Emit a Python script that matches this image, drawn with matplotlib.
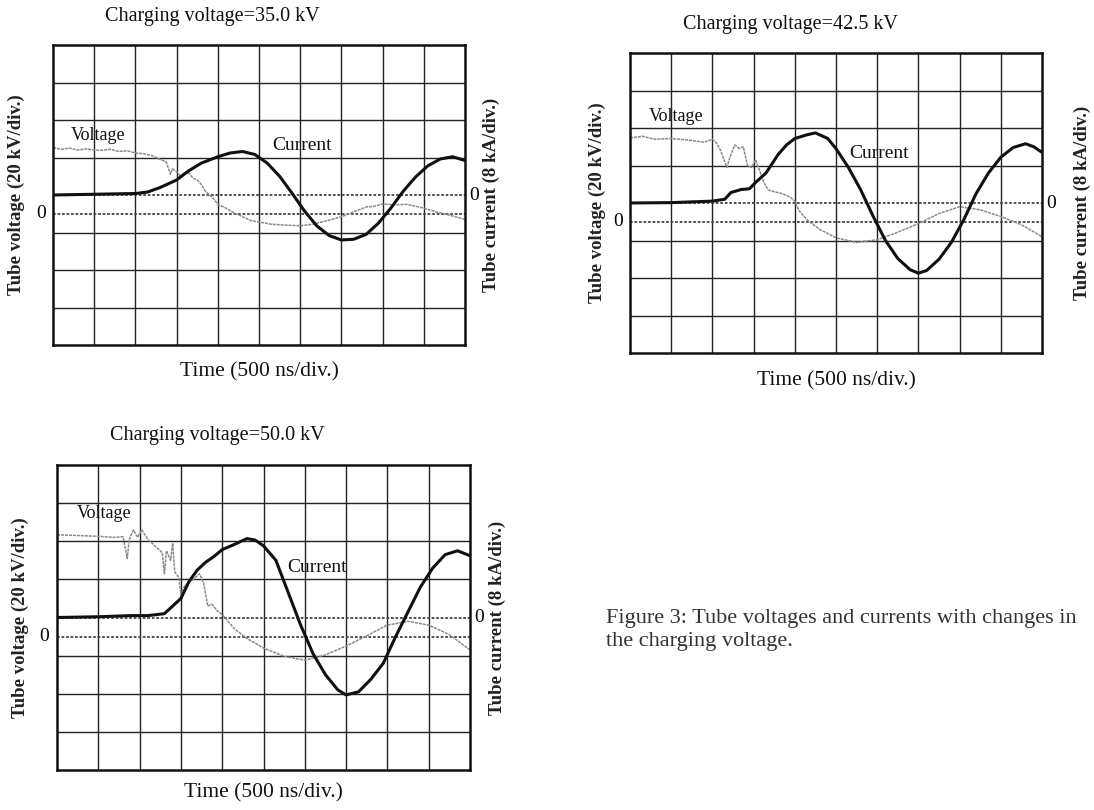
import matplotlib
matplotlib.use('Agg')
import matplotlib.pyplot as plt

plt.rcParams['font.family'] = ['Liberation Serif', 'DejaVu Serif']

W, H = 1094, 810

# scope traces in divisions (x: 10 div, y: +-4 div)
# current is relative to the centre line, voltage relative to its own zero (0.5 div lower)
titles = ['Charging voltage=35.0 kV', 'Charging voltage=42.5 kV', 'Charging voltage=50.0 kV']

cur35_t = [0, 1, 2, 2.3, 2.6, 3.0, 3.3, 3.6, 4.0, 4.3, 4.6, 4.9, 5.2, 5.5, 5.8, 6.1, 6.4, 6.7,
           7.0, 7.3, 7.6, 7.9, 8.2, 8.5, 8.8, 9.1, 9.4, 9.7, 10]
cur35 = [0, 0.02, 0.04, 0.08, 0.2, 0.4, 0.65, 0.85, 1.02, 1.12, 1.16, 1.08, 0.85, 0.5, 0.05,
         -0.42, -0.82, -1.08, -1.2, -1.18, -1.05, -0.75, -0.35, 0.1, 0.48, 0.78, 0.96, 1.02, 0.92]
volt35_t = [0, 0.2, 0.4, 0.6, 0.8, 1.0, 1.2, 1.4, 1.6, 1.8, 2.0, 2.2, 2.4, 2.6, 2.75, 2.85, 2.9,
            3.0, 3.1, 3.2, 3.3, 3.4, 3.5, 3.6, 3.7, 3.8, 3.9, 4.0, 4.2, 4.4, 4.6, 4.8, 5.0, 5.3,
            5.6, 6.0, 6.3, 6.6, 7.0, 7.3, 7.6, 7.8, 8.0, 8.3, 8.6, 9.0, 9.3, 9.6, 10]
volt35 = [1.76, 1.72, 1.75, 1.7, 1.73, 1.7, 1.69, 1.72, 1.66, 1.68, 1.62, 1.6, 1.55, 1.45, 1.38,
          1.05, 1.2, 1.12, 1.0, 1.1, 1.08, 0.95, 0.9, 0.78, 0.6, 0.5, 0.4, 0.25, 0.15, 0.02, -0.08,
          -0.18, -0.22, -0.28, -0.3, -0.32, -0.28, -0.2, -0.08, 0.05, 0.18, 0.2, 0.26, 0.24, 0.25,
          0.15, 0.05, -0.03, -0.15]

cur42_t = [0, 1, 2, 2.3, 2.45, 2.7, 2.9, 3.05, 3.3, 3.6, 3.8, 4.0, 4.3, 4.5, 4.8, 5.0, 5.3, 5.6,
           5.9, 6.2, 6.5, 6.8, 7.0, 7.2, 7.5, 7.8, 8.1, 8.4, 8.7, 9.0, 9.3, 9.6, 9.8, 10]
cur42 = [0, 0.01, 0.05, 0.1, 0.28, 0.36, 0.38, 0.55, 0.8, 1.3, 1.55, 1.72, 1.82, 1.87, 1.72, 1.45,
         0.95, 0.35, -0.35, -1.0, -1.48, -1.78, -1.87, -1.8, -1.5, -1.05, -0.45, 0.25, 0.8, 1.22,
         1.48, 1.58, 1.5, 1.35]
volt42_t = [0, 0.3, 0.6, 1.0, 1.4, 1.8, 2.0, 2.1, 2.2, 2.35, 2.45, 2.55, 2.65, 2.75, 2.85, 2.95,
            3.05, 3.15, 3.25, 3.35, 3.5, 3.7, 3.9, 4.0, 4.1, 4.3, 4.6, 5.0, 5.5, 6.0, 6.5, 7.0,
            7.5, 8.0, 8.5, 9.0, 9.5, 10]
volt42 = [2.23, 2.28, 2.2, 2.22, 2.18, 2.12, 2.2, 2.1, 1.9, 1.45, 1.8, 2.05, 1.95, 2.0, 1.5, 1.45,
          1.65, 1.35, 1.05, 0.85, 0.8, 0.75, 0.65, 0.55, 0.3, 0.05, -0.2, -0.43, -0.55, -0.48,
          -0.28, -0.05, 0.22, 0.4, 0.32, 0.14, -0.08, -0.4]

cur50_t = [0, 1, 1.8, 2.2, 2.6, 2.8, 3.0, 3.2, 3.4, 3.6, 3.8, 4.0, 4.3, 4.6, 4.8, 5.0, 5.3, 5.6,
           5.9, 6.2, 6.5, 6.8, 7.0, 7.3, 7.6, 7.9, 8.2, 8.5, 8.8, 9.1, 9.4, 9.7, 10]
cur50 = [0, 0.02, 0.05, 0.05, 0.1, 0.3, 0.5, 0.95, 1.25, 1.45, 1.6, 1.78, 1.92, 2.07, 2.03, 1.88,
         1.5, 0.65, -0.2, -0.95, -1.5, -1.9, -2.03, -1.95, -1.62, -1.2, -0.5, 0.15, 0.8, 1.3,
         1.65, 1.75, 1.62]
volt50_t = [0, 0.5, 1.0, 1.4, 1.6, 1.7, 1.75, 1.85, 1.95, 2.05, 2.2, 2.4, 2.55, 2.6, 2.65, 2.75,
            2.8, 2.85, 2.95, 3.0, 3.1, 3.3, 3.45, 3.55, 3.65, 3.75, 3.9, 4.0, 4.3, 4.6, 5.0, 5.5,
            6.0, 6.5, 7.0, 7.5, 8.0, 8.5, 9.0, 9.5, 10]
volt50 = [2.67, 2.65, 2.63, 2.6, 2.62, 2.05, 2.55, 2.8, 2.6, 2.8, 2.55, 2.35, 2.2, 1.65, 2.25, 2.0,
          2.45, 1.7, 1.55, 1.1, 1.35, 1.5, 1.65, 1.4, 0.8, 0.85, 0.65, 0.58, 0.2, -0.05, -0.3,
          -0.52, -0.62, -0.48, -0.25, 0.02, 0.3, 0.4, 0.3, 0.05, -0.35]

# voltage / current tag positions in divisions
volt_tag = [(1.1, 1.6), (1.13, 2.3), (1.13, 2.73)]
cur_tag = [(6.05, 1.33), (6.05, 1.32), (6.3, 1.32)]

# panel boxes in pixels (left, top, right, bottom)
boxes = [(53, 45, 465, 345), (630, 53, 1042, 353), (57, 465, 470, 770)]
title_xy = [(212, 16), (790, 24), (217, 435)]
xlab_y = [372, 381, 793]
vlab_x = [16, 597, 20]
ilab_x = [491, 1082, 497]

traces = [(cur35_t, cur35, volt35_t, volt35),
          (cur42_t, cur42, volt42_t, volt42),
          (cur50_t, cur50, volt50_t, volt50)]

fig = plt.figure(figsize=(W / 100, H / 100), dpi=100)


def fx(x):
    return x / W


def fy(y):
    return 1 - y / H


for i, (l, t, r, b) in enumerate(boxes):
    ax = fig.add_axes([fx(l), fy(b), (r - l) / W, (b - t) / H])
    ax.set_xlim(0, 10)
    ax.set_ylim(-4, 4)
    ax.set_xticks([])
    ax.set_yticks([])
    for s in ax.spines.values():
        s.set_linewidth(1.8)
        s.set_color('#111111')
    # graticule
    for gx in range(1, 10):
        ax.axvline(gx, color='#222222', lw=1.0)
    for gy in [-3, -2, -1, 1, 2, 3]:
        ax.axhline(gy, color='#222222', lw=1.0)
    # baselines of the two channels
    ax.axhline(0, color='#444444', lw=1.3, ls=(0, (1.5, 1)))
    ax.axhline(-0.5, color='#444444', lw=1.3, ls=(0, (1.5, 1)))

    ct, cv, vt, vv = traces[i]
    ax.plot(vt, [v - 0.5 for v in vv], color='#8a8a8a', lw=1.1, ls=(0, (2, 0.6)))
    ax.plot(ct, cv, color='#111111', lw=2.2)

    ax.text(*volt_tag[i], 'Voltage', fontsize=13, ha='center', va='center', color='#111111')
    ax.text(*cur_tag[i], 'Current', fontsize=14, ha='center', va='center', color='#111111')

    # zero markers for each channel
    ax.text(-0.3, -0.5, '0', fontsize=14, ha='center', va='center', clip_on=False)
    ax.text(10.22, 0, '0', fontsize=14, ha='center', va='center', clip_on=False)

    fig.text(fx(title_xy[i][0]), fy(title_xy[i][1]), titles[i], fontsize=14.5,
             ha='center', va='center', color='#111111')
    fig.text(fx((l + r) / 2), fy(xlab_y[i]), 'Time (500 ns/div.)', fontsize=15.5,
             ha='center', va='center', color='#111111')
    fig.text(fx(vlab_x[i]), fy((t + b) / 2), 'Tube voltage (20 kV/div.)', fontsize=13.5,
             fontweight='bold', rotation=90, ha='center', va='center', color='#222222')
    fig.text(fx(ilab_x[i]), fy((t + b) / 2), 'Tube current (8 kA/div.)', fontsize=13.5,
             fontweight='bold', rotation=90, ha='center', va='center', color='#222222')

fig.text(fx(606), fy(630), 'Figure 3: Tube voltages and currents with changes in\nthe charging voltage.',
         fontsize=16, ha='left', va='center', color='#333333', linespacing=1.3)

fig.savefig('out.png', dpi=100)
